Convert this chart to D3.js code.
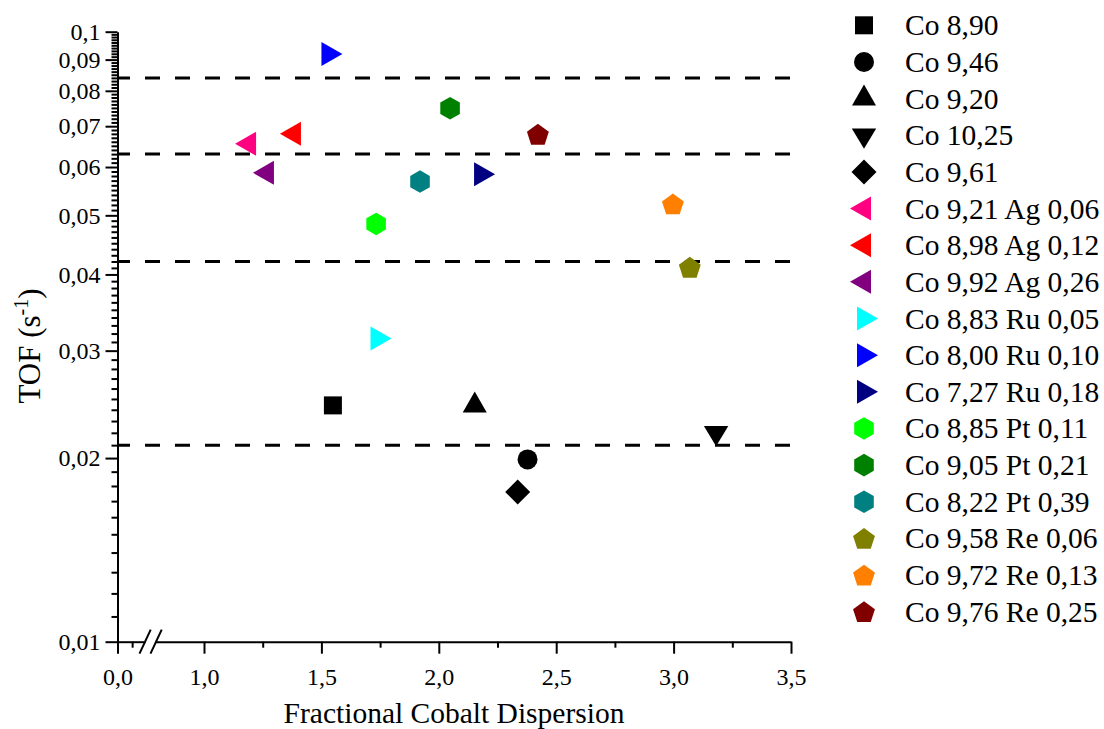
<!DOCTYPE html>
<html>
<head>
<meta charset="utf-8">
<script src="https://cdn.jsdelivr.net/npm/d3@7"></script>
<style>
  html, body { margin: 0; padding: 0; background: #fff; }
  svg { display: block; }
  text { font-family: "Liberation Serif", "Times New Roman", serif; fill: #000; }
</style>
</head>
<body>
<svg id="chart" width="1104" height="729"></svg>
<script>
// ---------------- data ----------------
const categories = [
  "Co 8,90", "Co 9,46", "Co 9,20", "Co 10,25", "Co 9,61",
  "Co 9,21 Ag 0,06", "Co 8,98 Ag 0,12", "Co 9,92 Ag 0,26",
  "Co 8,83 Ru 0,05", "Co 8,00 Ru 0,10", "Co 7,27 Ru 0,18",
  "Co 8,85 Pt 0,11", "Co 9,05 Pt 0,21", "Co 8,22 Pt 0,39",
  "Co 9,58 Re 0,06", "Co 9,72 Re 0,13", "Co 9,76 Re 0,25"
];
const dispersion = [
  1.549, 2.378, 2.153, 3.181, 2.336,
  1.192, 1.383, 1.268,
  1.739, 1.530, 2.180,
  1.733, 2.048, 1.920,
  3.069, 2.997, 2.422
];
const tof = [
  0.0244, 0.0199, 0.0244, 0.0220, 0.0176,
  0.0655, 0.0680, 0.0587,
  0.0314, 0.0919, 0.0584,
  0.0484, 0.0749, 0.0568,
  0.0411, 0.0522, 0.0679
];
const refLines = [0.021, 0.042, 0.063, 0.084];
const yMajorTicks = [0.01, 0.02, 0.03, 0.04, 0.05, 0.06, 0.07, 0.08, 0.09, 0.1];
const xMajorTicks = [1.0, 1.5, 2.0, 2.5, 3.0, 3.5];
const xMinorTicks = [1.25, 1.75, 2.25, 2.75, 3.25];
const xFirstSegTicks = [0.0];
const xFirstSegMinor = [0.25];

// ---------------- styles ----------------
const seriesShapes = [
  "square", "circle", "up", "down", "diamond",
  "left", "left", "left",
  "right", "right", "right",
  "hexagon", "hexagon", "hexagon",
  "pentagon", "pentagon", "pentagon"
];
const seriesColors = [
  "#000000", "#000000", "#000000", "#000000", "#000000",
  "#FF0080", "#FF0000", "#800080",
  "#00FFFF", "#0000FF", "#000080",
  "#00FF00", "#008000", "#008080",
  "#808000", "#FF8000", "#800000"
];

// ---------------- layout ----------------
const svg = d3.select("#chart");
const yBottom = 641.7, yTop = 31.7;
const y = d3.scaleLog().domain([0.01, 0.1]).range([yBottom, yTop]);
const x1 = d3.scaleLinear().domain([0, 0.47]).range([117.5, 145]);
const x2 = d3.scaleLinear().domain([0.79, 3.5]).range([204 - 0.21 * 234.8, 791]);

const yMinorTicks = d3.range(11, 100).map(v => v / 1000).filter(v => v % 0.01 > 1e-9 && 0.01 - (v % 0.01) > 1e-9);

const commaFmt = (d, p) => d3.format("." + p + "f")(d).replace(".", ",");
const yFmt = d => String(+d.toFixed(3)).replace(".", ",");
const serif = '"Liberation Serif", "Times New Roman", serif';

// reference dashed lines
svg.append("g").selectAll("line").data(refLines).join("line")
  .attr("x1", 117.5).attr("x2", 791)
  .attr("y1", d => y(d)).attr("y2", d => y(d))
  .attr("stroke", "#000").attr("stroke-width", 3)
  .attr("stroke-dasharray", "15,15").attr("stroke-dashoffset", 2.5);

// y axis minor
const gyMinor = svg.append("g").attr("transform", `translate(${x1(0)},0)`)
  .call(d3.axisLeft(y).tickValues(yMinorTicks).tickSize(6).tickSizeOuter(0).tickFormat(""));
gyMinor.select(".domain").remove();
// y axis major
const gy = svg.append("g").attr("transform", `translate(${x1(0)},0)`)
  .call(d3.axisLeft(y).tickValues(yMajorTicks).tickSize(12).tickSizeOuter(0).tickPadding(5).tickFormat(yFmt));

// x axis first segment
const gx1 = svg.append("g").attr("transform", `translate(0,${yBottom})`)
  .call(d3.axisBottom(x1).tickValues(xFirstSegTicks).tickSize(12).tickSizeOuter(0).tickPadding(14)
    .tickFormat(d => commaFmt(d, 1)));
const gx1m = svg.append("g").attr("transform", `translate(0,${yBottom})`)
  .call(d3.axisBottom(x1).tickValues(xFirstSegMinor).tickSize(6).tickSizeOuter(0).tickFormat(""));
gx1m.select(".domain").remove();
// x axis second segment
const gx2 = svg.append("g").attr("transform", `translate(0,${yBottom})`)
  .call(d3.axisBottom(x2).tickValues(xMajorTicks).tickSize(12).tickSizeOuter(0).tickPadding(14)
    .tickFormat(d => commaFmt(d, 1)));
const gx2m = svg.append("g").attr("transform", `translate(0,${yBottom})`)
  .call(d3.axisBottom(x2).tickValues(xMinorTicks).tickSize(6).tickSizeOuter(0).tickFormat(""));
gx2m.select(".domain").remove();

svg.selectAll("g").attr("font-family", serif);
svg.selectAll(".domain").attr("stroke", "#000").attr("stroke-width", 2);
svg.selectAll(".tick line").attr("stroke", "#000").attr("stroke-width", 2);
svg.selectAll(".tick text").style("font-family", serif)
  .style("font-size", "24px").attr("fill", "#000");

// break marks
const brk = svg.append("g").attr("stroke", "#000").attr("stroke-width", 2);
[[139.5, 150.7], [150.5, 161.7]].forEach(([a, b]) => {
  brk.append("line").attr("x1", a).attr("y1", yBottom + 12).attr("x2", b).attr("y2", yBottom - 12);
});

// axis titles
svg.append("text").attr("x", 454).attr("y", 723).attr("text-anchor", "middle")
  .style("font-size", "29.5px").text("Fractional Cobalt Dispersion");
const yt = svg.append("text").attr("transform", "translate(40,346) rotate(-90)")
  .attr("text-anchor", "middle").style("font-size", "31px");
yt.append("tspan").text("TOF (s");
yt.append("tspan").attr("dy", -12).style("font-size", "20px").text("-1");
yt.append("tspan").attr("dy", 12).text(")");

// ---------------- markers ----------------
function shapePath(shape) {
  const line = d3.line();
  const poly = (pts) => line(pts) + "Z";
  switch (shape) {
    case "square": return poly([[-9, -9], [9, -9], [9, 9], [-9, 9]]);
    case "circle": return d3.symbol(d3.symbolCircle, Math.PI * 100)();
    case "up": return poly([[0, -14], [12, 7], [-12, 7]]);
    case "down": return poly([[0, 13.5], [12.2, -6.8], [-12.2, -6.8]]);
    case "diamond": return poly([[0, -12.5], [12.5, 0], [0, 12.5], [-12.5, 0]]);
    case "left": return poly([[-14, 0], [7, -12], [7, 12]]);
    case "right": return poly([[14, 0], [-7, -12], [-7, 12]]);
    case "hexagon": {
      const r = 11.3;
      return poly(d3.range(6).map(k => {
        const a = (-90 + 60 * k) * Math.PI / 180;
        return [r * Math.cos(a), r * Math.sin(a)];
      }));
    }
    case "pentagon": {
      const r = 11.5, dy = 0.0955 * r;
      return poly(d3.range(5).map(k => {
        const a = (-90 + 72 * k) * Math.PI / 180;
        return [r * Math.cos(a), r * Math.sin(a) + dy];
      }));
    }
  }
}

const points = categories.map((c, i) => ({ name: c, x: dispersion[i], y: tof[i], shape: seriesShapes[i], color: seriesColors[i] }));

svg.append("g").selectAll("path").data(points).join("path")
  .attr("transform", d => `translate(${x2(d.x)},${y(d.y)})`)
  .attr("d", d => shapePath(d.shape))
  .attr("fill", d => d.color);

// ---------------- legend ----------------
const legend = svg.append("g");
const rowY = i => 25.3 + i * 36.65;
const leg = legend.selectAll("g").data(points).join("g")
  .attr("transform", (d, i) => `translate(864,${rowY(i)})`);
leg.append("path").attr("d", d => shapePath(d.shape)).attr("fill", d => d.color);
leg.append("text").attr("x", 41).attr("y", 10).style("font-size", "29.5px").text(d => d.name);
</script>
</body>
</html>
